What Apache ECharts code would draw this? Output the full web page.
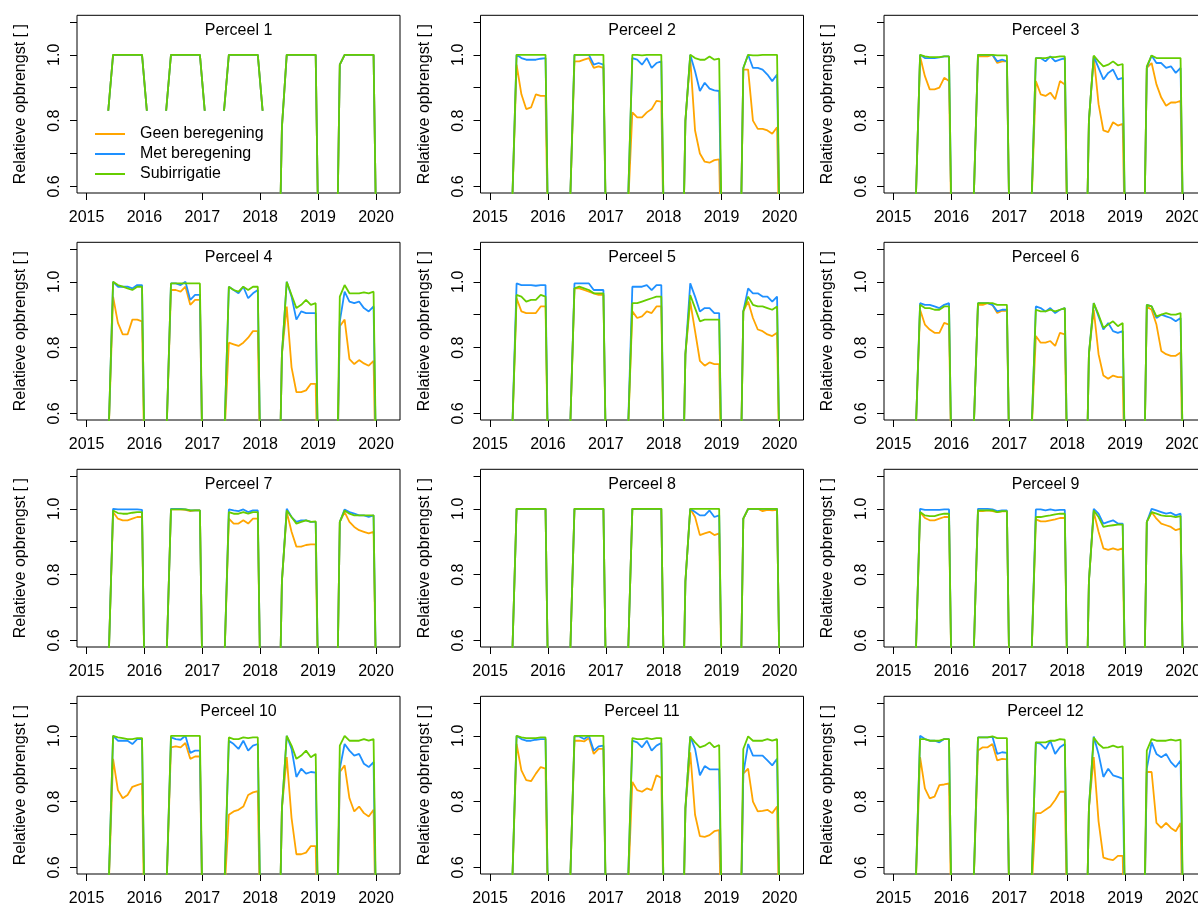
<!DOCTYPE html>
<html>
<head>
<meta charset="utf-8">
<script src="https://cdn.jsdelivr.net/npm/echarts@6/dist/echarts.min.js"></script>
<style>
  html, body { margin: 0; padding: 0; background: #fff; }
  #chart { width: 1198px; height: 908px; }
</style>
</head>
<body>
<div id="chart"></div>
<script>
// ---------- DATA ----------
const seriesNames = ['Geen beregening', 'Met beregening', 'Subirrigatie'];
const seriesColors = ['#FFA500', '#1E90FF', '#66CD00'];
const panelTitles = ['Perceel 1','Perceel 2','Perceel 3','Perceel 4','Perceel 5','Perceel 6',
                     'Perceel 7','Perceel 8','Perceel 9','Perceel 10','Perceel 11','Perceel 12'];
const xTickValues = [2015, 2016, 2017, 2018, 2019, 2020];
const yTickValues = [0.6, 0.7, 0.8, 0.9, 1.0, 1.1];
const yLabelValues = [0.6, 0.8, 1.0];
const yAxisTitle = 'Relatieve opbrengst [ ]';

// monthly values, Jan 2015 .. Mar 2020 (63 months), mid-month
const firstYear = 2015;
const monthCount = 63;

// Perceel 1: full monthly record (identical for all three scenarios)
const p1Full = [
  null,null,null,null, 0.83, 1,1,1,1,1,1,1,
  0.83,null,null,null, 0.83, 1,1,1,1,1,1,1,
  0.83,null,null,null, 0.83, 1,1,1,1,1,1,1,
  0.83,null,null,0,    0.78, 1,1,1,1,1,1,1,
  0,0,0,0,             0.97, 1,1,1,1,1,1,1,
  0,0,0
];

// Other plots: growing season values May..Dec for 2015..2019 (8 per year); other months 0
const p2geen = [0.5,0.97,0.88,0.835,0.84,0.88,0.875,0.875, 0.5,0.98,0.98,0.985,0.99,0.96,0.965,0.96, 0.5,0.825,0.81,0.81,0.825,0.835,0.86,0.858, 0.8,0.99,0.77,0.70,0.675,0.672,0.68,0.682, 0.955,0.955,0.80,0.775,0.775,0.77,0.76,0.78];
const p2met  = [0.5,1.0,0.99,0.985,0.985,0.985,0.988,0.99, 0.5,1.0,1.0,1.0,1.0,0.97,0.975,0.97, 0.5,0.99,0.985,0.97,0.99,0.96,0.975,0.98, 0.8,1.0,0.95,0.89,0.915,0.897,0.892,0.89, 0.96,1.0,0.96,0.96,0.955,0.94,0.92,0.94];
const p2sub  = [0.5,1,1,1,1,1,1,1, 0.5,1,1,1,1,1,1,1, 0.5,1,1,0.998,1,1,1,1, 0.8,1.0,0.99,0.985,0.985,0.995,0.985,0.988, 0.96,1.0,0.998,0.998,1,1,1,1];

const p3geen = [0.5,0.995,0.935,0.895,0.895,0.90,0.93,0.92, 0.5,0.995,0.995,0.995,1.0,0.975,0.98,0.98, 0.5,0.92,0.88,0.875,0.885,0.865,0.92,0.91, 0.8,0.995,0.85,0.77,0.765,0.795,0.785,0.79, 0.96,0.975,0.91,0.87,0.845,0.855,0.855,0.86];
const p3met  = [0.5,1.0,0.99,0.99,0.99,0.992,0.995,0.995, 0.5,1.0,1.0,1.0,1.0,0.98,0.985,0.98, 0.5,0.99,0.99,0.98,0.995,0.98,0.985,0.99, 0.8,0.995,0.96,0.925,0.945,0.955,0.925,0.93, 0.96,0.998,0.975,0.975,0.96,0.965,0.945,0.96];
const p3sub  = [0.5,1.0,0.995,0.993,0.993,0.993,0.995,0.995, 0.5,1,1,1,1,0.998,0.998,0.998, 0.5,0.99,0.99,0.99,0.993,0.993,0.995,0.995, 0.8,0.998,0.98,0.965,0.97,0.98,0.968,0.972, 0.965,0.998,0.99,0.99,0.99,0.99,0.99,0.99];

const p4geen = [0.5,0.955,0.875,0.84,0.84,0.885,0.885,0.88, 0.5,0.975,0.975,0.97,0.985,0.93,0.945,0.945, 0.5,0.815,0.81,0.805,0.815,0.83,0.85,0.85, 0.78,0.925,0.74,0.665,0.665,0.67,0.69,0.69, 0.865,0.885,0.765,0.75,0.762,0.752,0.745,0.76];
const p4met  = [0.5,1.0,0.985,0.985,0.985,0.98,0.99,0.99, 0.5,0.995,0.995,0.99,1.0,0.945,0.96,0.96, 0.5,0.985,0.975,0.965,0.985,0.95,0.965,0.975, 0.78,1.0,0.955,0.885,0.91,0.905,0.905,0.905, 0.88,0.97,0.94,0.935,0.94,0.92,0.91,0.925];
const p4sub  = [0.5,1.0,0.99,0.985,0.98,0.975,0.985,0.985, 0.5,0.995,0.995,0.995,0.995,0.995,0.995,0.995, 0.5,0.985,0.975,0.97,0.985,0.975,0.985,0.985, 0.78,1.0,0.96,0.92,0.93,0.945,0.93,0.935, 0.955,0.99,0.965,0.965,0.965,0.968,0.965,0.97];

const p5geen = [0.5,0.95,0.91,0.905,0.905,0.905,0.925,0.925, 0.5,0.98,0.98,0.975,0.97,0.965,0.96,0.96, 0.5,0.91,0.89,0.895,0.91,0.905,0.925,0.925, 0.78,0.94,0.85,0.76,0.745,0.755,0.75,0.75, 0.91,0.94,0.89,0.855,0.85,0.84,0.835,0.845];
const p5met  = [0.5,0.995,0.99,0.99,0.99,0.988,0.99,0.99, 0.5,0.995,0.995,0.995,0.995,0.975,0.975,0.975, 0.5,0.985,0.985,0.985,0.99,0.975,0.99,0.99, 0.78,0.995,0.955,0.91,0.92,0.92,0.905,0.905, 0.91,0.98,0.965,0.965,0.955,0.955,0.94,0.955];
const p5sub  = [0.5,0.96,0.955,0.94,0.945,0.945,0.96,0.955, 0.5,0.98,0.985,0.98,0.975,0.965,0.965,0.965, 0.5,0.935,0.935,0.94,0.945,0.95,0.955,0.955, 0.78,0.96,0.92,0.88,0.885,0.885,0.885,0.885, 0.91,0.955,0.93,0.925,0.925,0.92,0.915,0.925];

const p6geen = [0.5,0.915,0.87,0.855,0.845,0.845,0.875,0.87, 0.5,0.93,0.93,0.935,0.93,0.905,0.912,0.912, 0.5,0.835,0.815,0.815,0.82,0.805,0.845,0.84, 0.78,0.915,0.78,0.715,0.705,0.715,0.71,0.71, 0.925,0.915,0.87,0.79,0.78,0.775,0.775,0.785];
const p6met  = [0.5,0.935,0.93,0.93,0.925,0.92,0.93,0.935, 0.5,0.935,0.935,0.935,0.93,0.91,0.915,0.915, 0.5,0.925,0.92,0.91,0.92,0.905,0.915,0.92, 0.78,0.935,0.895,0.855,0.875,0.85,0.845,0.85, 0.93,0.925,0.89,0.9,0.895,0.89,0.88,0.89];
const p6sub  = [0.5,0.93,0.92,0.92,0.915,0.915,0.925,0.925, 0.5,0.935,0.935,0.935,0.935,0.93,0.93,0.93, 0.5,0.915,0.91,0.91,0.915,0.91,0.915,0.92, 0.78,0.935,0.9,0.86,0.87,0.88,0.865,0.875, 0.93,0.925,0.895,0.9,0.905,0.9,0.9,0.905];

const p7geen = [0.5,0.99,0.97,0.965,0.965,0.97,0.975,0.975, 0.5,0.998,0.998,0.998,0.997,0.993,0.995,0.995, 0.5,0.97,0.955,0.955,0.965,0.955,0.97,0.97, 0.78,0.99,0.93,0.885,0.885,0.89,0.892,0.892, 0.96,0.99,0.96,0.945,0.935,0.93,0.925,0.93];
const p7met  = [0.5,1.0,0.998,0.998,0.998,0.998,0.998,0.997, 0.5,1.0,1.0,1.0,0.998,0.995,0.995,0.995, 0.5,0.998,0.995,0.993,0.998,0.99,0.995,0.995, 0.78,1.0,0.975,0.96,0.965,0.965,0.96,0.96, 0.96,0.998,0.99,0.985,0.98,0.98,0.975,0.98];
const p7sub  = [0.5,0.995,0.987,0.985,0.985,0.988,0.99,0.99, 0.5,0.998,0.998,0.998,0.998,0.995,0.995,0.995, 0.5,0.99,0.985,0.985,0.99,0.985,0.99,0.99, 0.78,0.995,0.975,0.955,0.96,0.965,0.96,0.962, 0.96,0.995,0.985,0.98,0.98,0.98,0.98,0.98];

const p8geen = [0.5,1,1,1,1,1,1,1, 0.5,1,1,1,1,1,1,1, 0.5,1,1,1,1,1,1,1, 0.78,1.0,0.975,0.92,0.925,0.93,0.92,0.925, 0.97,1.0,1.0,1.0,0.993,0.997,0.995,0.997];
const p8met  = [0.5,1,1,1,1,1,1,1, 0.5,1,1,1,1,1,1,1, 0.5,1,1,1,1,1,1,1, 0.78,1.0,0.99,0.98,0.98,0.995,0.975,0.98, 0.97,1,1,1,1,1,1,1];
const p8sub  = [0.5,1,1,1,1,1,1,1, 0.5,1,1,1,1,1,1,1, 0.5,1,1,1,1,1,1,1, 0.78,1,1,1,1,1,1,1, 0.97,1,1,1,1,1,1,1];

const p9geen = [0.5,0.99,0.972,0.965,0.965,0.97,0.975,0.975, 0.5,0.993,0.993,0.995,0.993,0.99,0.992,0.992, 0.5,0.968,0.962,0.962,0.965,0.968,0.972,0.972, 0.78,0.99,0.93,0.88,0.875,0.88,0.875,0.88, 0.96,0.99,0.97,0.955,0.95,0.945,0.935,0.94];
const p9met  = [0.5,1.0,0.997,0.997,0.997,0.997,0.998,0.998, 0.5,1.0,1.0,1.0,0.998,0.993,0.995,0.995, 0.5,0.998,0.998,0.995,0.998,0.995,0.997,0.997, 0.78,1.0,0.985,0.955,0.96,0.965,0.955,0.955, 0.96,1.0,0.995,0.99,0.985,0.988,0.98,0.985];
const p9sub  = [0.5,0.99,0.98,0.978,0.978,0.982,0.985,0.985, 0.5,0.995,0.995,0.995,0.995,0.99,0.993,0.993, 0.5,0.975,0.975,0.978,0.98,0.983,0.985,0.985, 0.78,0.995,0.975,0.945,0.948,0.95,0.952,0.952, 0.96,0.99,0.985,0.98,0.978,0.978,0.975,0.978];

const p10geen = [0.5,0.93,0.835,0.81,0.82,0.845,0.85,0.855, 0.5,0.965,0.968,0.965,0.978,0.93,0.937,0.937, 0.5,0.76,0.77,0.775,0.785,0.82,0.828,0.832, 0.78,0.935,0.75,0.64,0.64,0.645,0.665,0.665, 0.89,0.91,0.81,0.77,0.785,0.765,0.755,0.775];
const p10met  = [0.5,1.0,0.985,0.985,0.985,0.975,0.99,0.99, 0.5,0.995,0.99,0.988,1.0,0.948,0.955,0.955, 0.5,0.985,0.975,0.96,0.985,0.955,0.97,0.975, 0.78,1.0,0.96,0.875,0.9,0.885,0.89,0.888, 0.9,0.975,0.955,0.94,0.945,0.915,0.905,0.92];
const p10sub  = [0.5,1.0,0.995,0.993,0.99,0.99,0.993,0.993, 0.5,1,1,1,1,1,1,1, 0.5,0.995,0.99,0.99,0.995,0.993,0.995,0.995, 0.78,1.0,0.97,0.93,0.94,0.955,0.935,0.945, 0.97,1.0,0.985,0.985,0.985,0.99,0.985,0.99];

const p11geen = [0.5,0.975,0.895,0.865,0.862,0.885,0.905,0.9, 0.5,0.985,0.985,0.983,0.993,0.945,0.96,0.96, 0.5,0.86,0.835,0.83,0.84,0.835,0.88,0.872, 0.78,0.95,0.76,0.695,0.693,0.698,0.71,0.713, 0.885,0.9,0.8,0.77,0.772,0.775,0.765,0.785];
const p11met  = [0.5,1.0,0.99,0.985,0.985,0.988,0.99,0.99, 0.5,0.998,0.998,0.99,1.0,0.955,0.968,0.97, 0.5,0.985,0.98,0.965,0.985,0.955,0.97,0.978, 0.78,0.998,0.96,0.88,0.908,0.898,0.898,0.898, 0.885,0.975,0.94,0.94,0.94,0.925,0.91,0.93];
const p11sub  = [0.5,1.0,0.995,0.993,0.993,0.993,0.995,0.995, 0.5,1,1,1,1,1,1,1, 0.5,0.993,0.99,0.99,0.993,0.99,0.993,0.993, 0.78,0.998,0.98,0.965,0.97,0.98,0.965,0.972, 0.96,0.998,0.985,0.985,0.985,0.99,0.985,0.99];

const p12geen = [0.5,0.935,0.84,0.81,0.815,0.85,0.852,0.855, 0.5,0.955,0.965,0.965,0.975,0.925,0.93,0.928, 0.5,0.765,0.765,0.775,0.785,0.805,0.83,0.83, 0.78,0.935,0.74,0.63,0.625,0.622,0.635,0.635, 0.89,0.89,0.735,0.72,0.735,0.72,0.71,0.735];
const p12met  = [0.5,1.0,0.99,0.985,0.985,0.98,0.99,0.99, 0.5,0.995,0.995,0.995,0.997,0.945,0.95,0.948, 0.5,0.98,0.975,0.96,0.985,0.945,0.965,0.975, 0.78,0.998,0.945,0.875,0.9,0.88,0.875,0.87, 0.9,0.98,0.945,0.935,0.945,0.92,0.905,0.925];
const p12sub  = [0.5,0.99,0.99,0.985,0.985,0.985,0.99,0.99, 0.5,0.995,0.995,0.995,0.998,0.993,0.993,0.993, 0.5,0.98,0.98,0.98,0.985,0.985,0.99,0.988, 0.78,0.995,0.975,0.963,0.965,0.97,0.965,0.968, 0.955,0.99,0.985,0.985,0.985,0.988,0.985,0.988];

// ---------- BUILD ----------
const monthTimes = [];
for (let i = 0; i < monthCount; i++) monthTimes.push(firstYear + (i + 0.5) / 12);

function expandSeason(season) {
  const out = [];
  for (let y = 0; y < 5; y++) {
    for (let m = 0; m < 4; m++) out.push(0);
    for (let m = 0; m < 8; m++) out.push(season[y * 8 + m]);
  }
  while (out.length < monthCount) out.push(0);
  return out;
}

const panels = [
  [p1Full, p1Full, p1Full],
  [expandSeason(p2geen), expandSeason(p2met), expandSeason(p2sub)],
  [expandSeason(p3geen), expandSeason(p3met), expandSeason(p3sub)],
  [expandSeason(p4geen), expandSeason(p4met), expandSeason(p4sub)],
  [expandSeason(p5geen), expandSeason(p5met), expandSeason(p5sub)],
  [expandSeason(p6geen), expandSeason(p6met), expandSeason(p6sub)],
  [expandSeason(p7geen), expandSeason(p7met), expandSeason(p7sub)],
  [expandSeason(p8geen), expandSeason(p8met), expandSeason(p8sub)],
  [expandSeason(p9geen), expandSeason(p9met), expandSeason(p9sub)],
  [expandSeason(p10geen), expandSeason(p10met), expandSeason(p10sub)],
  [expandSeason(p11geen), expandSeason(p11met), expandSeason(p11sub)],
  [expandSeason(p12geen), expandSeason(p12met), expandSeason(p12sub)]
];

const FONT = '"Liberation Sans", Arial, Helvetica, sans-serif';
const colLeft = [77, 480.5, 884];
const boxW = 323, boxH = 177.7, rowTop0 = 15.3, rowStep = 227;

const grids = [], xAxes = [], yAxes = [], series = [], graphics = [];
for (let i = 0; i < 12; i++) {
  const r = Math.floor(i / 3), c = i % 3;
  const left = colLeft[c], top = rowTop0 + r * rowStep;
  grids.push({ left: left, top: top, width: boxW, height: boxH, show: true,
    borderColor: '#000', borderWidth: 1, backgroundColor: 'transparent',
    containLabel: false, outerBoundsMode: 'none' });
  xAxes.push({
    type: 'value', gridIndex: i, min: 2014.835, max: 2020.415,
    axisLine: { show: false },
    axisTick: { show: true, inside: false, length: 7, lineStyle: { color: '#000', width: 1 }, customValues: xTickValues },
    axisLabel: { show: true, customValues: xTickValues, margin: 17, color: '#000', fontSize: 16, fontFamily: FONT,
      hideOverlap: false, formatter: v => String(Math.round(v)) },
    splitLine: { show: false }
  });
  yAxes.push({
    type: 'value', gridIndex: i, min: 0.58, max: 1.12,
    name: yAxisTitle, nameLocation: 'middle', nameRotate: 90, nameGap: 48,
    nameTextStyle: { color: '#000', fontSize: 16, fontFamily: FONT },
    axisLine: { show: false },
    axisTick: { show: true, inside: false, length: 7, lineStyle: { color: '#000', width: 1 }, customValues: yTickValues },
    axisLabel: { show: true, customValues: yLabelValues, rotate: 90, margin: 14, color: '#000', fontSize: 16, fontFamily: FONT,
      formatter: v => v.toFixed(1) },
    splitLine: { show: false }
  });
  for (let s = 0; s < 3; s++) {
    series.push({
      name: seriesNames[s], type: 'line', xAxisIndex: i, yAxisIndex: i,
      data: panels[i][s].map((v, k) => [monthTimes[k], v]),
      symbol: 'none', showSymbol: false, clip: true, connectNulls: false,
      color: seriesColors[s],
      lineStyle: { color: seriesColors[s], width: 1.8 },
      silent: true, z: 2 + s
    });
  }
  graphics.push({
    type: 'text', x: left + boxW / 2, y: top + 15,
    style: { text: panelTitles[i], fill: '#000', font: '16px ' + FONT, align: 'center', verticalAlign: 'middle' },
    silent: true
  });
}

const chart = echarts.init(document.getElementById('chart'), null, { renderer: 'canvas' });
chart.setOption({
  animation: false,
  backgroundColor: '#fff',
  grid: grids,
  xAxis: xAxes,
  yAxis: yAxes,
  series: series,
  graphic: graphics,
  legend: {
    data: seriesNames, orient: 'vertical', left: 95, top: 124, padding: 0,
    icon: 'rect', itemWidth: 30, itemHeight: 2, itemGap: 0,
    textStyle: { color: '#000', fontSize: 16, fontFamily: FONT, lineHeight: 20, padding: [0, 0, 0, 10] },
    selectedMode: false
  }
});
</script>
</body>
</html>
